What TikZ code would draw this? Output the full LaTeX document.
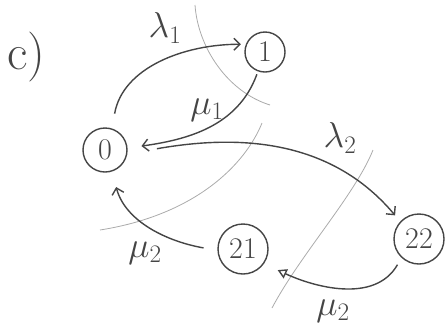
\documentclass[tikz,border=0pt]{standalone}
\usepackage{fix-cm}
\usepackage{amsmath,amssymb}
\usepackage{xcolor}
\usetikzlibrary{arrows.meta, positioning}

\definecolor{pencil}{HTML}{454545}
\definecolor{faint}{HTML}{ABABAB}

\begin{document}
\begin{tikzpicture}[x=1pt, y=-1pt,
        state/.style={circle, draw=pencil, line width=1.4pt, minimum size=44pt, inner sep=0pt, text=pencil, font=\fontsize{30}{34}\selectfont},
        arrow/.style={-{Straight Barb[length=6pt, width=12pt]}, line width=1.4pt, draw=pencil},
        openarrow/.style={-{Triangle[open, length=9pt, width=10pt]}, line width=1.4pt, draw=pencil},
        cut/.style={draw=faint, line width=0.8pt},
        rate/.style={text=pencil, font=\fontsize{36}{40}\selectfont}
    ]
        \useasboundingbox (0,0) rectangle (447,325);

        \node[text=pencil, font=\fontsize{50}{56}\selectfont] (tag) at (26,57) {c)};

        \node[state] (n0) at (105,150) {0};
        \node[state, minimum size=40pt] (n1) at (265,52) {1};
        \node[state, minimum size=50pt] (n21) at (243,249) {21};
        \node[state, minimum size=50pt] (n22) at (419,239) {22};

        % cuts
        \draw[cut] (195,5) .. controls (198,48) and (228,92) .. (270,105);
        \draw[cut] (262,123) .. controls (245,165) and (195,215) .. (100,230);
        \draw[cut] (373,150) .. controls (355,195) and (300,255) .. (272,308);

        % transitions
        \draw[arrow, shorten <=15pt, shorten >=5pt] (n0.72) to[out=80, in=180] (n1.158);
        \draw[arrow, shorten <=3pt, shorten >=14pt] (n1.250) to[out=-110, in=8] (n0.5);
        \draw[arrow, shorten <=30pt, shorten >=8pt] (n0.-10) to[out=10, in=130] (n22.137);
        \draw[arrow, shorten <=14pt, shorten >=16pt] (n21.183) to[out=170, in=-75] (n0.-72);
        \draw[openarrow, shorten <=8pt, shorten >=15pt] (n22.227) to[out=-120, in=-25] (n21.-35);

        \node[rate] (lam1) at (165,28) {$\lambda_1$};
        \node[rate] (mu1) at (207,110) {$\mu_1$};
        \node[rate] (lam2) at (340,138) {$\lambda_2$};
        \node[rate] (mu2a) at (145,253) {$\mu_2$};
        \node[rate] (mu2b) at (333,311) {$\mu_2$};

    \end{tikzpicture}
\end{document}
